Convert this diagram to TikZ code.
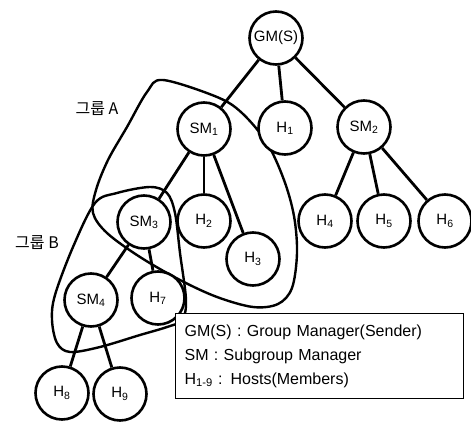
\documentclass[tikz,border=0pt]{standalone}
\usepackage{fontspec}
\setmainfont{Liberation Sans}
\newfontfamily\krfont{Noto Sans CJK KR}
\usetikzlibrary{positioning}
\tikzset{
    % Define style for the circles (managers and hosts)
    host/.style={
           circle,
           draw=black, line width=2.6pt,
           fill=white,
           minimum size=53pt,
           inner sep=0pt,
           font=\fontsize{15}{17}\selectfont},
    % Define style for the tree links
    link/.style={line width=2.8pt},
    % Define style for the group outlines
    grp/.style={line width=2.4pt, line join=round},
    % Define style for the group captions
    grplabel/.style={font=\krfont\fontsize{16}{19}\selectfont},
    % Define style for the legend box
    legend/.style={
           rectangle,
           draw=black, line width=1.2pt,
           fill=white,
           align=left,
           text width=270pt,
           minimum height=85pt,
           inner xsep=9pt,
           font=\fontsize{16}{24}\selectfont}
}

\begin{document}
\begin{tikzpicture}[x=1pt,y=1pt]
  \useasboundingbox (0,0) rectangle (471,421);
  % group outlines
  \draw[grp] plot[smooth cycle, tension=0.55] coordinates {
    (163,341) (217,324) (242,308) (267,278) (284,241) (294,205) (297,168)
    (292,133) (278,117) (253,114) (217,124) (180,141) (140,164) (107,188)
    (93,208) (96,231) (108,261) (127,294) (147,329)};
  \draw[grp] plot[smooth cycle, tension=0.55] coordinates {
    (95,218) (117,228) (150,234) (167,228) (175,208) (180,168) (186,121)
    (182,101) (167,94) (140,86) (100,74) (70,69) (57,78) (52,101) (55,126)
    (73,174)};
  \node[grplabel] (capA) at (97,312) {그룹 A};
  \node[grplabel] (capB) at (37,178) {그룹 B};
  % tree
  \node[host] (gm)  at (276,383) {GM(S)};
  \node[host] (sm1) at (204,292) {SM\textsubscript{1}};
  \node[host] (h1)  at (285,293) {H\textsubscript{1}};
  \node[host] (sm2) at (364,294) {SM\textsubscript{2}};
  \node[host] (sm3) at (144,199) {SM\textsubscript{3}};
  \node[host] (h2)  at (204,200) {H\textsubscript{2}};
  \node[host] (h3)  at (253,162) {H\textsubscript{3}};
  \node[host] (h4)  at (325,200) {H\textsubscript{4}};
  \node[host] (h5)  at (384,200) {H\textsubscript{5}};
  \node[host] (h6)  at (445,200) {H\textsubscript{6}};
  \node[host] (sm4) at (91,121)  {SM\textsubscript{4}};
  \node[host] (h7)  at (158,123) {H\textsubscript{7}};
  \node[host] (h8)  at (62,28)   {H\textsubscript{8}};
  \node[host] (h9)  at (120,27)  {H\textsubscript{9}};
  \path[link]
    (gm) edge (sm1)
    (gm) edge (h1)
    (gm) edge (sm2)
    (sm1) edge (sm3)
    (sm1) edge (h2)
    (sm1) edge (h3)
    (sm2) edge (h4)
    (sm2) edge (h5)
    (sm2) edge (h6)
    (sm3) edge (sm4)
    (sm3) edge (h7)
    (sm4) edge (h8)
    (sm4) edge (h9);
  % legend
  \node[legend, anchor=north west] (key) at (175,108) {GM(S) : Group Manager(Sender)\\
    SM : Subgroup Manager\\
    H\textsubscript{1-9} : Hosts(Members)};
\end{tikzpicture}
\end{document}
